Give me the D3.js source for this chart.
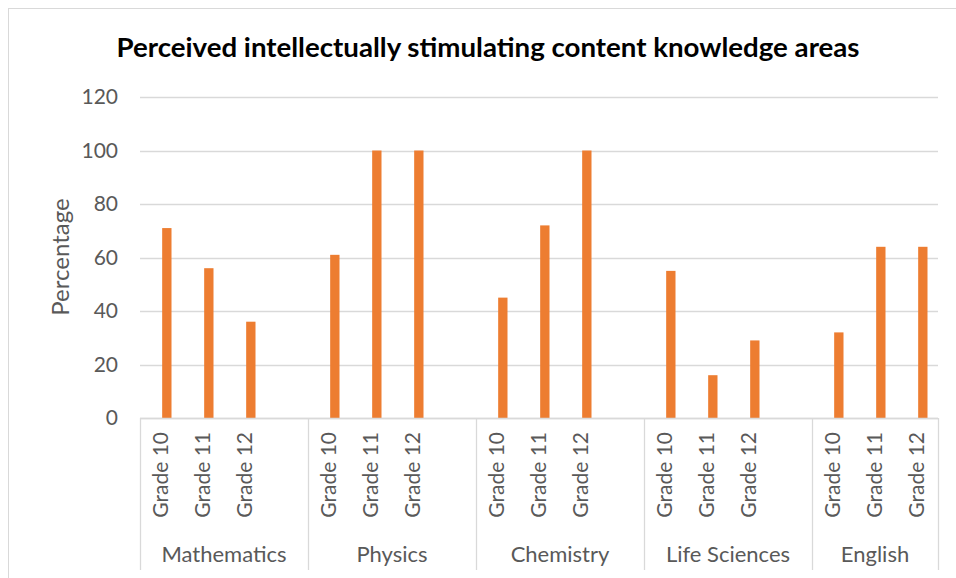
<!DOCTYPE html>
<html>
<head>
<meta charset="utf-8">
<script src="https://cdn.jsdelivr.net/npm/d3@7"></script>
<style>
  body { margin: 0; background: #fff; }
  text { font-family: Lato, "Open Sans", sans-serif; fill: #595959; }
</style>
</head>
<body>
<script>
// data
var subjects = ["Mathematics", "Physics", "Chemistry", "Life Sciences", "English"];
var grades = ["Grade 10", "Grade 11", "Grade 12"];
var mathematics = [71, 56, 36];
var physics = [61, 100, 100];
var chemistry = [45, 72, 100];
var lifeSciences = [55, 16, 29];
var english = [32, 64, 64];
var yTicks = [0, 20, 40, 60, 80, 100, 120];

var allValues = [mathematics, physics, chemistry, lifeSciences, english];

// set up svg
var width = 956, height = 578;
var plot = {left: 140, right: 938, top: 97, bottom: 418};

var svg = d3.select("body").append("svg")
  .attr("width", width)
  .attr("height", height);

// chart border (runs off the right and bottom edge in the original)
svg.append("rect")
  .attr("x", 8.5).attr("y", 8.5)
  .attr("width", 960).attr("height", 600)
  .attr("fill", "none")
  .attr("stroke", "#d9d9d9");

// one slot per grade, plus an empty slot after each subject but the last
var slots = [];
subjects.forEach(function(s, i) {
  grades.forEach(function(g, j) {
    slots.push({key: s + "|" + g, subject: s, grade: g, value: allValues[i][j]});
  });
  if (i < subjects.length - 1) slots.push({key: s + "|blank", subject: s, grade: null, value: null});
});

var xChart = d3.scaleBand()
  .domain(slots.map(function(d) { return d.key; }))
  .range([plot.left, plot.right]);

// two series per slot, the first is empty, so the bar sits right of centre
var xSeries = d3.scaleBand()
  .domain(["empty", "Percentage"])
  .range([0, xChart.bandwidth()])
  .paddingInner(0.2)
  .paddingOuter(0.9);

var yChart = d3.scaleLinear()
  .domain([0, 120])
  .range([plot.bottom, plot.top]);

// gridlines
svg.append("g")
  .selectAll("line")
  .data(yTicks)
  .enter().append("line")
  .attr("x1", plot.left).attr("x2", plot.right)
  .attr("y1", function(d) { return Math.round(yChart(d)) + 0.5; })
  .attr("y2", function(d) { return Math.round(yChart(d)) + 0.5; })
  .attr("stroke", "#d9d9d9")
  .attr("stroke-width", 1.3);

// left axis labels
var yAxis = d3.axisLeft(yChart).tickValues(yTicks).tickSize(0).tickPadding(22);
svg.append("g")
  .attr("class", "y axis")
  .attr("transform", "translate(" + plot.left + ",0)")
  .call(yAxis)
  .call(function(g) { g.select(".domain").remove(); })
  .selectAll("text")
    .style("font-family", "Lato, sans-serif")
    .style("font-size", "21px")
    .attr("fill", "#595959");

// bars
svg.append("g")
  .selectAll(".bar")
  .data(slots.filter(function(d) { return d.value !== null; }))
  .enter().append("rect")
  .attr("class", "bar")
  .attr("x", function(d) { return xChart(d.key) + xSeries("Percentage"); })
  .attr("y", function(d) { return yChart(d.value); })
  .attr("width", xSeries.bandwidth())
  .attr("height", function(d) { return plot.bottom - yChart(d.value); })
  .attr("fill", "#ed7d31");

// group boundaries for the two level category axis
var bounds = [];
subjects.forEach(function(s) {
  var mine = slots.filter(function(d) { return d.subject === s; });
  var x0 = xChart(mine[0].key);
  var x1 = xChart(mine[mine.length - 1].key) + xChart.bandwidth();
  bounds.push({subject: s, x0: x0, x1: x1});
});

var axisBottom = 570;
var edges = bounds.map(function(b) { return b.x0; }).concat([plot.right]);
svg.append("g")
  .selectAll("line")
  .data(edges)
  .enter().append("line")
  .attr("x1", function(d) { return Math.round(d) + 0.5; })
  .attr("x2", function(d) { return Math.round(d) + 0.5; })
  .attr("y1", plot.bottom)
  .attr("y2", axisBottom)
  .attr("stroke", "#d9d9d9")
  .attr("stroke-width", 1.3);

// bottom axis line
svg.append("line")
  .attr("x1", plot.left).attr("x2", plot.right)
  .attr("y1", plot.bottom + 0.5).attr("y2", plot.bottom + 0.5)
  .attr("stroke", "#d9d9d9")
  .attr("stroke-width", 1.3);

// grade labels, rotated
svg.append("g")
  .selectAll("text")
  .data(slots.filter(function(d) { return d.grade !== null; }))
  .enter().append("text")
  .attr("transform", function(d) {
    return "translate(" + (xChart(d.key) + xChart.bandwidth() / 2) + "," + (plot.bottom + 14) + ") rotate(-90)";
  })
  .attr("text-anchor", "end")
  .attr("dy", "0.35em")
  .style("font-size", "21px")
  .text(function(d) { return d.grade; });

// subject labels
svg.append("g")
  .selectAll("text")
  .data(bounds)
  .enter().append("text")
  .attr("x", function(d) { return (d.x0 + d.x1) / 2; })
  .attr("y", 562)
  .attr("text-anchor", "middle")
  .style("font-size", "22px")
  .text(function(d) { return d.subject; });

// axis title
svg.append("text")
  .attr("transform", "translate(69,257) rotate(-90)")
  .attr("text-anchor", "middle")
  .style("font-size", "24px")
  .text("Percentage");

// chart title
svg.append("text")
  .attr("x", 488)
  .attr("y", 57)
  .attr("text-anchor", "middle")
  .attr("textLength", 743)
  .attr("lengthAdjust", "spacingAndGlyphs")
  .style("font-size", "27px")
  .style("font-weight", "bold")
  .style("fill", "#000")
  .text("Perceived intellectually stimulating content knowledge areas");
</script>
</body>
</html>
